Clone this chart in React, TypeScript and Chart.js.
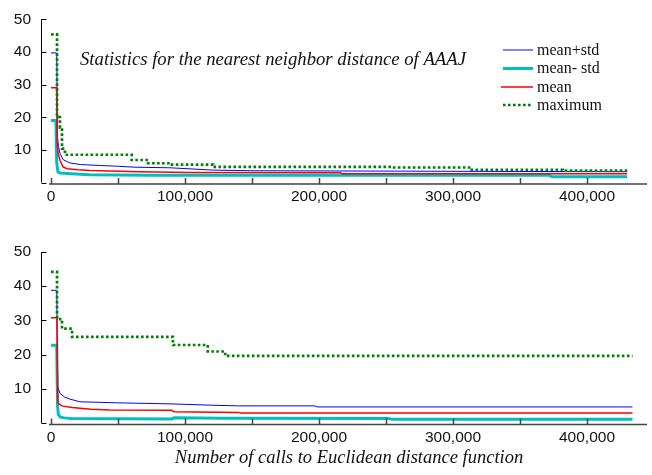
import React, { useEffect, useRef } from 'react';
import { Chart, registerables } from 'chart.js';

Chart.register(...registerables);

// ---------- text ----------
const chartTitle = 'Statistics for the nearest neighbor distance of AAAJ';
const xAxisTitle = 'Number of calls to Euclidean distance function';
const legendLabels = ['mean+std', 'mean- std', 'mean', 'maximum'];

// ---------- ticks ----------
const xTickValues = [0, 50000, 100000, 150000, 200000, 250000, 300000, 350000, 400000];
const xLabelValues = [0, 100000, 200000, 300000, 400000];
const yTickValues = [0, 10, 20, 30, 40, 50];

// ---------- top panel data ----------
const topPlusX = [0, 4300, 4800, 5600, 6700, 9000, 14000, 22000, 37000, 49000, 62000, 89000, 121000, 150000, 283000, 430000];
const topPlusY = [39.7, 39.7, 14, 11, 9.0, 7.0, 6.0, 5.5, 5.2, 5.0, 4.7, 4.5, 3.8, 3.6, 3.45, 3.3];

const topMinusX = [0, 3700, 4300, 5200, 6700, 15000, 29000, 74000, 372000, 374000, 430000];
const topMinusY = [19, 19, 6, 3.2, 2.9, 2.7, 2.4, 2.2, 2.2, 1.75, 1.75];

const topMeanX = [0, 4200, 4600, 5300, 6700, 9000, 12000, 20000, 29000, 66000, 103000, 216000, 217000, 430000];
const topMeanY = [29, 29, 12, 9, 6.8, 4.8, 4.2, 3.9, 3.65, 3.27, 3.05, 3.0, 2.7, 2.7];

const topMaxX = [0, 4500, 6700, 8200, 10400, 60200, 72400, 90300, 121000, 255000, 314000, 382000, 430000];
const topMaxY = [45.4, 20.0, 16.8, 10.4, 8.5, 6.9, 5.9, 5.5, 4.8, 4.6, 3.9, 3.65, 3.65];

// ---------- bottom panel data ----------
const botPlusX = [0, 4300, 5000, 6700, 10000, 14000, 21600, 49000, 88800, 120000, 140000, 197000, 198500, 434000];
const botPlusY = [38.8, 38.8, 10.5, 8.7, 7.6, 7.0, 6.2, 5.9, 5.6, 5.2, 5.0, 5.0, 4.7, 4.7];

const botMinusX = [0, 4300, 4900, 5500, 7000, 10000, 15000, 90000, 92000, 128000, 252000, 254000, 434000];
const botMinusY = [22.7, 22.7, 5, 2.5, 1.7, 1.5, 1.3, 1.17, 1.5, 1.4, 1.35, 1.08, 1.08];

const botMeanX = [0, 4400, 4900, 5300, 8000, 15700, 30000, 44000, 90000, 91500, 140000, 141500, 434000];
const botMeanY = [30.8, 30.8, 8, 5.8, 5.0, 4.5, 4.0, 3.8, 3.75, 3.3, 3.1, 2.9, 2.9];

const botMaxX = [0, 4500, 8200, 15700, 91000, 117000, 130000, 434000];
const botMaxY = [44.2, 30.4, 27.6, 25.2, 22.8, 20.9, 19.6, 19.6];

// ---------- styles ----------
const seriesStyles = [
  { color: '#0000ff', width: 1, dash: [] as number[], order: 3, stepped: false as any },
  { color: '#00bfbf', width: 3, dash: [] as number[], order: 4, stepped: false as any },
  { color: '#ff0000', width: 1.5, dash: [] as number[], order: 2, stepped: false as any },
  { color: '#008000', width: 2.7, dash: [2.6, 2.4], order: 1, stepped: 'before' as any },
];

const pts = (xs: number[], ys: number[]) => xs.map((x, i) => ({ x, y: ys[i] }));

const SANS = '"Liberation Sans", Arial, sans-serif';
const SERIF = '"Liberation Serif", "Times New Roman", serif';

const axesPlugin = {
  id: 'customAxes',
  afterDraw(chart: any) {
    const { ctx, chartArea, scales } = chart;
    const xs = scales.x;
    const ys = scales.y;
    ctx.save();
    // y axis line and inward ticks
    const yl = Math.round(chartArea.left) + 0.5;
    ctx.strokeStyle = '#000';
    ctx.lineWidth = 1;
    ctx.beginPath();
    ctx.moveTo(yl, ys.getPixelForValue(50));
    ctx.lineTo(yl, ys.getPixelForValue(0));
    yTickValues.forEach((v) => {
      const py = Math.round(ys.getPixelForValue(v)) + 0.5;
      ctx.moveTo(yl, py);
      ctx.lineTo(yl + 5, py);
    });
    ctx.stroke();
    // x axis line and inward ticks
    const yb = ys.getPixelForValue(0) + 1.5;
    ctx.strokeStyle = '#444';
    ctx.lineWidth = 1.5;
    ctx.beginPath();
    ctx.moveTo(xs.getPixelForValue(-1500), yb);
    ctx.lineTo(chartArea.right, yb);
    xTickValues.forEach((v) => {
      const px = Math.round(xs.getPixelForValue(v)) + 0.5;
      ctx.moveTo(px, yb);
      ctx.lineTo(px, yb - 6);
    });
    ctx.stroke();
    ctx.restore();
  },
};

const annotationPlugin = {
  id: 'titleLegend',
  afterDraw(chart: any) {
    const { ctx } = chart;
    ctx.save();
    ctx.fillStyle = '#111';
    ctx.font = `italic 18.7px ${SERIF}`;
    ctx.textBaseline = 'alphabetic';
    ctx.textAlign = 'left';
    ctx.fillText(chartTitle, 80, 65);
    const rows = [50, 68.5, 87, 105];
    ctx.font = `16px ${SERIF}`;
    legendLabels.forEach((lab, i) => {
      const st = seriesStyles[i];
      ctx.beginPath();
      ctx.strokeStyle = st.color;
      ctx.lineWidth = st.width;
      ctx.setLineDash(st.dash);
      ctx.moveTo(i === 2 ? 501 : 503, rows[i]);
      ctx.lineTo(533, rows[i]);
      ctx.stroke();
      ctx.setLineDash([]);
      ctx.fillStyle = '#111';
      ctx.fillText(lab, 537, rows[i] + 4.5);
    });
    ctx.restore();
  },
};

const xTitlePlugin = {
  id: 'xTitle',
  afterDraw(chart: any) {
    const { ctx, scales } = chart;
    const xs = scales.x;
    ctx.save();
    ctx.fillStyle = '#111';
    ctx.font = `italic 18.5px ${SERIF}`;
    ctx.textAlign = 'center';
    ctx.textBaseline = 'alphabetic';
    const cx = (xs.getPixelForValue(0) + xs.right) / 2;
    ctx.fillText(xAxisTitle, cx, xs.bottom - 12);
    ctx.restore();
  },
};

function makeConfig(series: { x: number[]; y: number[] }[], opts: { top: number; axisHeight: number; extra: any[] }) {
  return {
    type: 'line' as const,
    data: {
      datasets: series.map((s, i) => ({
        label: legendLabels[i],
        data: pts(s.x, s.y),
        borderColor: seriesStyles[i].color,
        backgroundColor: seriesStyles[i].color,
        borderWidth: seriesStyles[i].width,
        borderDash: seriesStyles[i].dash,
        borderCapStyle: 'butt' as const,
        stepped: seriesStyles[i].stepped,
        order: seriesStyles[i].order,
        pointRadius: 0,
        tension: 0,
        fill: false,
      })),
    },
    options: {
      responsive: false,
      animation: false as const,
      layout: { padding: { top: opts.top, right: 5, left: 0, bottom: 0 } },
      plugins: { legend: { display: false }, tooltip: { enabled: false }, title: { display: false } },
      scales: {
        x: {
          type: 'linear' as const,
          min: -7460,
          max: 444780,
          grid: { display: false, drawTicks: false },
          border: { display: false },
          afterBuildTicks: (scale: any) => {
            scale.ticks = xTickValues.map((v) => ({ value: v }));
          },
          afterFit: (scale: any) => {
            scale.height = opts.axisHeight;
          },
          ticks: {
            autoSkip: false,
            maxRotation: 0,
            padding: 5,
            color: '#111',
            font: { family: SANS, size: 15.5 },
            callback: (v: any) => (xLabelValues.includes(Number(v)) ? Number(v).toLocaleString('en-US') : ''),
          },
        },
        y: {
          type: 'linear' as const,
          min: 0,
          max: 50,
          grid: { display: false, drawTicks: false },
          border: { display: false },
          afterBuildTicks: (scale: any) => {
            scale.ticks = yTickValues.map((v) => ({ value: v }));
          },
          afterFit: (scale: any) => {
            scale.width = 41;
          },
          ticks: {
            padding: 10,
            color: '#111',
            font: { family: SANS, size: 15.5 },
            callback: (v: any) => (Number(v) === 0 ? '' : String(v)),
          },
        },
      },
    },
    plugins: [axesPlugin, ...opts.extra],
  };
}

export default function App() {
  const topRef = useRef<HTMLCanvasElement | null>(null);
  const botRef = useRef<HTMLCanvasElement | null>(null);

  useEffect(() => {
    if (!topRef.current || !botRef.current) return;
    const topChart = new Chart(
      topRef.current,
      makeConfig(
        [
          { x: topPlusX, y: topPlusY },
          { x: topMinusX, y: topMinusY },
          { x: topMeanX, y: topMeanY },
          { x: topMaxX, y: topMaxY },
        ],
        { top: 11, axisHeight: 47.5, extra: [annotationPlugin] }
      ) as any
    );
    const botChart = new Chart(
      botRef.current,
      makeConfig(
        [
          { x: botPlusX, y: botPlusY },
          { x: botMinusX, y: botMinusY },
          { x: botMeanX, y: botMeanY },
          { x: botMaxX, y: botMaxY },
        ],
        { top: 22, axisHeight: 52, extra: [xTitlePlugin] }
      ) as any
    );
    return () => {
      topChart.destroy();
      botChart.destroy();
    };
  }, []);

  return (
    <div style={{ position: 'absolute', left: 0, top: 0, width: 652, height: 475, background: '#fff' }}>
      <canvas ref={topRef} width={652} height={230} style={{ position: 'absolute', left: 0, top: 0, width: 652, height: 230 }} />
      <canvas ref={botRef} width={652} height={245} style={{ position: 'absolute', left: 0, top: 230, width: 652, height: 245 }} />
    </div>
  );
}
